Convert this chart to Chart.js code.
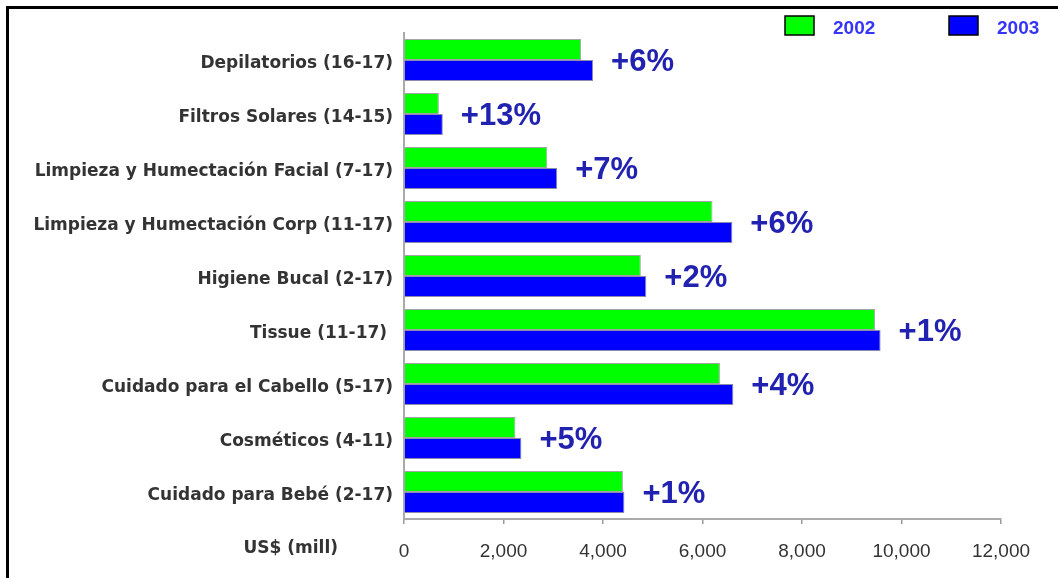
<!DOCTYPE html>
<html>
<head>
<meta charset="utf-8">
<script src="https://cdn.jsdelivr.net/npm/chart.js@4"></script>
<style>
  body { margin: 0; background: #fff; }
  #wrap { position: relative; width: 1058px; height: 578px; }
  #frame { position: absolute; left: 6px; top: 6px; right: 0; bottom: 0;
           border-top: 3px solid #000; border-left: 3px solid #000; }
  canvas { position: absolute; left: 0; top: 0; }
</style>
</head>
<body>
<div id="wrap">
  <div id="frame"></div>
  <canvas id="grafica" width="1058" height="578"></canvas>
</div>
<script>
const categorias = [
    'Depilatorios (16-17)',
    'Filtros Solares (14-15)',
    'Limpieza y Humectación Facial (7-17)',
    'Limpieza y Humectación Corp (11-17)',
    'Higiene Bucal (2-17)',
    'Tissue (11-17) ',
    'Cuidado para el Cabello (5-17)',
    'Cosméticos (4-11)',
    'Cuidado para Bebé (2-17)'
]
const ventas2002 = [3560, 700, 2880, 6200, 4760, 9470, 6350, 2240, 4400]
const ventas2003 = [3800, 780, 3080, 6600, 4870, 9580, 6620, 2360, 4430]
const crecimiento = ['+6%', '+13%', '+7%', '+6%', '+2%', '+1%', '+4%', '+5%', '+1%']
const ticksX = [0, 2000, 4000, 6000, 8000, 10000, 12000]

const graph = document.querySelector('#grafica');

// etiquetas de crecimiento a la derecha de cada barra 2003
const etiquetas = {
    id: 'etiquetas',
    afterDatasetsDraw(chart) {
        const ctx = chart.ctx;
        const m0 = chart.getDatasetMeta(0);
        const m1 = chart.getDatasetMeta(1);
        ctx.save();
        ctx.font = 'bold 31px "Liberation Sans", Arial';
        ctx.fillStyle = '#2222b0';
        ctx.textBaseline = 'middle';
        ctx.textAlign = 'left';
        crecimiento.forEach((t, i) => {
            const b = m1.data[i];
            const y = (m0.data[i].y + b.y) / 2 + 2;
            ctx.fillText(t, b.x + 18, y);
        });
        ctx.restore();
    }
};

// leyenda y titulo del eje
const extras = {
    id: 'extras',
    afterDraw(chart) {
        const ctx = chart.ctx;
        ctx.save();
        const xs = [785, 949];
        chart.data.datasets.forEach((ds, i) => {
            ctx.fillStyle = ds.backgroundColor;
            ctx.fillRect(xs[i], 16, 29, 19);
            ctx.strokeStyle = '#000';
            ctx.lineWidth = 1.5;
            ctx.strokeRect(xs[i], 16, 29, 19);
            ctx.font = 'bold 19px "Liberation Sans", Arial';
            ctx.fillStyle = '#3535f5';
            ctx.textBaseline = 'middle';
            ctx.textAlign = 'left';
            ctx.fillText(ds.label, xs[i] + 48, 29);
        });
        ctx.font = 'bold 17px "DejaVu Sans"';
        ctx.fillStyle = '#333';
        ctx.textAlign = 'right';
        ctx.textBaseline = 'middle';
        ctx.fillText('US$ (mill)', 338, 549);
        ctx.restore();
    }
};

const data = {
    labels: categorias,
    datasets: [{
        label: '2002',
        data: ventas2002,
        backgroundColor: '#00ff00',
        borderColor: 'rgba(90,90,90,0.55)',
        borderWidth: 1,
        categoryPercentage: 0.78,
        barPercentage: 1
    },
    {
        label: '2003',
        data: ventas2003,
        backgroundColor: '#0000ff',
        borderColor: 'rgba(60,60,120,0.6)',
        borderWidth: 1,
        categoryPercentage: 0.78,
        barPercentage: 1
    }
    ]
};

const config = {
    type: 'bar',
    data: data,
    options: {
        indexAxis: 'y',
        responsive: false,
        animation: false,
        layout: { padding: { top: 33, right: 57, left: 0, bottom: 0 } },
        plugins: {
            legend: { display: false },
            tooltip: { enabled: false }
        },
        scales: {
            x: {
                min: 0,
                max: 12000,
                afterBuildTicks: s => { s.ticks = ticksX.map(v => ({ value: v })); },
                afterFit: s => { s.height = 59; },
                grid: { drawOnChartArea: false, drawTicks: true, tickLength: 5, color: '#999', lineWidth: 1.5 },
                border: { display: true, color: '#aaa', width: 2 },
                ticks: {
                    padding: 16,
                    color: '#333',
                    font: { family: '"Liberation Sans", Arial', size: 19 },
                    callback: v => v.toLocaleString('en-US')
                }
            },
            y: {
                afterFit: s => { s.width = 404; },
                grid: { display: false, drawTicks: false },
                border: { display: true, color: '#aaa', width: 2 },
                ticks: {
                    padding: 11,
                    labelOffset: 4,
                    color: '#333',
                    font: { family: '"DejaVu Sans"', size: 17, weight: 'bold' }
                }
            }
        }
    },
    plugins: [etiquetas, extras]
};

new Chart(graph, config);
</script>
</body>
</html>
